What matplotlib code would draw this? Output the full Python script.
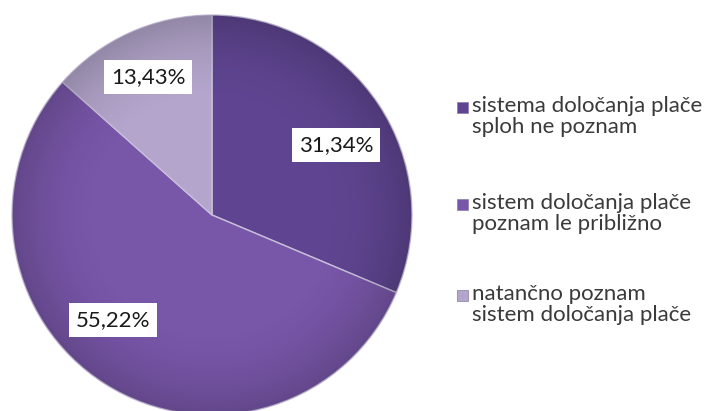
import numpy as np
import matplotlib.pyplot as plt
from matplotlib.patches import Rectangle, Circle

plt.rcParams["font.family"] = ["Lato", "DejaVu Sans"]

kategorije = [
    "sistema določanja plače\nsploh ne poznam",
    "sistem določanja plače\npoznam le približno",
    "natančno poznam\nsistem določanja plače",
]
deleži = [31.34, 55.22, 13.43]
barve = ["#5f4591", "#7856a8", "#b3a5cb"]

fig = plt.figure(figsize=(7.09, 4.11), dpi=100)
# pie area: 400x400 px, centre near (212, 215)
ax = fig.add_axes([12 / 709, -4 / 411, 400 / 709, 400 / 411])

wedges, _ = ax.pie(
    deleži, colors=barve, startangle=90, counterclock=False, radius=1,
    wedgeprops=dict(edgecolor="#c9bfdc", linewidth=1.0),
)
ax.set_xlim(-1, 1)
ax.set_ylim(-1, 1)
ax.set_aspect("equal")

# soft darkening towards the rim
g = np.linspace(-1, 1, 400)
xx, yy = np.meshgrid(g, g)
rr = np.hypot(xx, yy)
senca = np.zeros((400, 400, 4))
senca[..., 3] = np.clip((rr - 0.55) / 0.45, 0, 1) ** 2 * 0.18
img = ax.imshow(senca, extent=(-1, 1, -1, 1), origin="lower", zorder=2)
img.set_clip_path(Circle((0, 0), 1, transform=ax.transData))

# data labels as boxed text
polozaji = [(0.62, 0.35), (-0.495, -0.525), (-0.32, 0.69)]
for d, (x, y) in zip(deleži, polozaji):
    ax.text(x, y, f"{d:.2f}%".replace(".", ","), ha="center", va="center",
            fontsize=16, color="#1a1a1a", zorder=3,
            bbox=dict(boxstyle="square,pad=0.3", fc="white", ec="none"))

# legend: marker aligned with the first line of each entry
W, H = 709, 411
vrh = [96, 193, 284]
for k, c, y in zip(kategorije, barve, vrh):
    fig.patches.append(Rectangle((457 / W, 1 - (y + 17) / H), 11 / W, 11 / H,
                                 fc=c, ec="#8a7aa8", lw=0.5, transform=fig.transFigure))
    fig.text(472 / W, 1 - y / H, k, ha="left", va="top", fontsize=16,
             color="#3a3a3a", linespacing=1.05)

fig.savefig("out.png", dpi=100)
